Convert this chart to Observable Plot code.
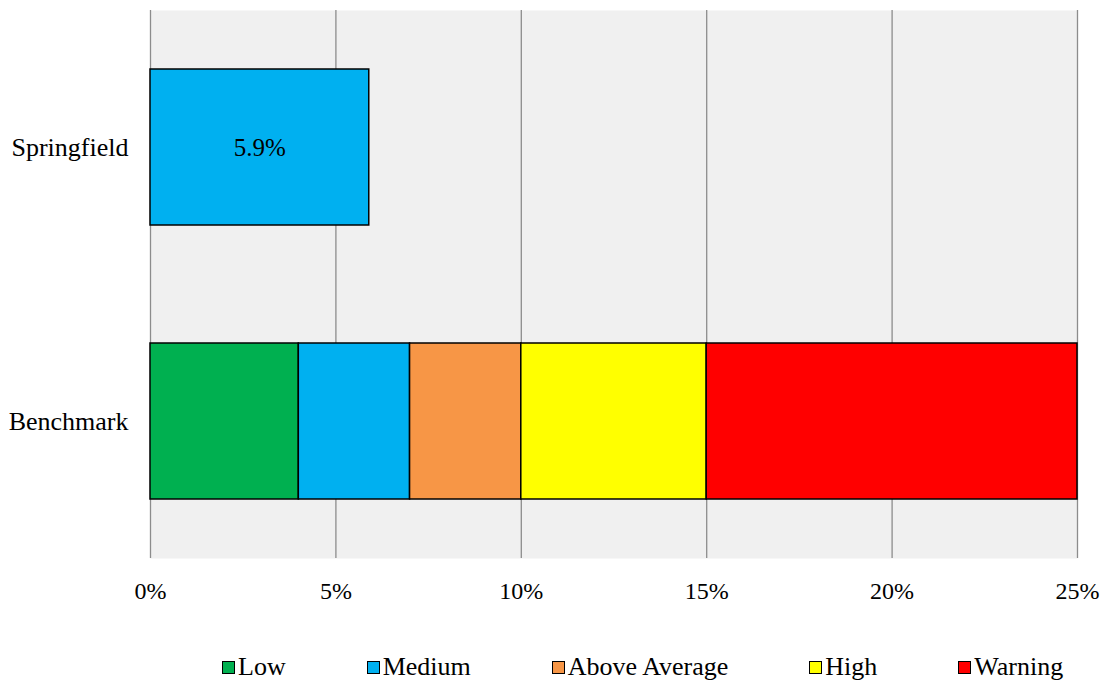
<!DOCTYPE html>
<html>
<head>
<meta charset="utf-8">
<script src="https://cdn.jsdelivr.net/npm/d3@7"></script>
<script src="https://cdn.jsdelivr.net/npm/@observablehq/plot@0.6"></script>
<style>
  html, body { margin: 0; padding: 0; background: #fff; }
  #wrap { position: relative; width: 1102px; height: 681px; font-family: "Liberation Serif", Tinos, "Times New Roman", Times, "DejaVu Serif", serif; }
  #legend { position: absolute; top: 652px; left: 222px; display: flex; gap: 81px; font-size: 26px; color: #000; }
  .item { display: flex; align-items: center; }
  .sw { width: 11px; height: 11px; border: 1.5px solid #000; margin-right: 3px; }
</style>
</head>
<body>
<div id="wrap"></div>
<script>
const categories = ["Springfield", "Benchmark"];
const levels = ["Low", "Medium", "Above Average", "High", "Warning"];
const levelColors = ["#00B050", "#00B0F0", "#F79646", "#FFFF00", "#FF0000"];
const benchmarkWidths = [4, 3, 3, 5, 10];
const springfieldLevel = "Medium";
const springfieldValue = 5.9;
const xTicks = [0, 5, 10, 15, 20, 25];

const rows = [
  {cat: "Springfield", level: springfieldLevel, value: springfieldValue},
  ...levels.map((l, i) => ({cat: "Benchmark", level: l, value: benchmarkWidths[i]}))
];

const FONT = "'Liberation Serif', Tinos, 'Times New Roman', Times, 'DejaVu Serif', serif";

const chart = Plot.plot({
  width: 1102,
  height: 630,
  marginTop: 10,
  marginBottom: 72,
  marginLeft: 150,
  marginRight: 25,
  style: {fontFamily: FONT, fontSize: "24px", color: "#000", background: "#fff"},
  x: {domain: [0, 25], ticks: xTicks, tickFormat: d => d + "%", label: null},
  y: {domain: categories, paddingInner: 0.43, paddingOuter: 0.215, label: null},
  color: {domain: levels, range: levelColors},
  marks: [
    Plot.frame({fill: "#F0F0F0", stroke: null}),
    Plot.gridX(xTicks, {stroke: "#8c8c8c", strokeOpacity: 1, strokeWidth: 1.3}),
    Plot.axisX(xTicks, {tickSize: 0, tickPadding: 23, tickFormat: d => d + "%", fontSize: 24, fontFamily: FONT, label: null}),
    Plot.axisY({tickSize: 0, tickPadding: 22, fontSize: 26, fontFamily: FONT, label: null}),
    Plot.barX(rows, Plot.stackX({order: levels, x: "value", y: "cat", fill: "level", stroke: "#000", strokeWidth: 1.5})),
    Plot.text(rows.filter(d => d.cat === "Springfield"), {x: d => d.value / 2, y: "cat", text: d => d.value.toFixed(1) + "%", fontSize: 25, fontFamily: FONT, fill: "#000"})
  ]
});

const wrap = document.getElementById("wrap");
wrap.appendChild(chart);
const legend = document.createElement("div");
legend.id = "legend";
levels.forEach((l, i) => {
  const it = document.createElement("div");
  it.className = "item";
  const sw = document.createElement("div");
  sw.className = "sw";
  sw.style.background = levelColors[i];
  const tx = document.createElement("span");
  tx.textContent = l;
  it.appendChild(sw);
  it.appendChild(tx);
  legend.appendChild(it);
});
wrap.appendChild(legend);
</script>
</body>
</html>
